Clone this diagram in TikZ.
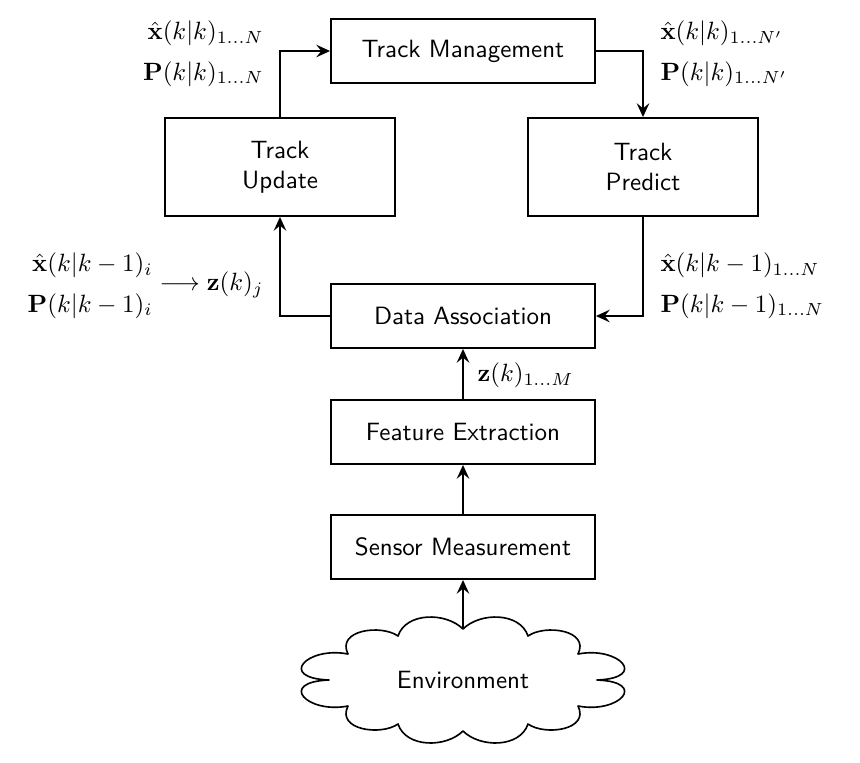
\documentclass[tikz,border=0pt]{standalone}
\usetikzlibrary{arrows.meta}
\begin{document}
\begin{tikzpicture}[x=0.4pt,y=-0.4pt,
  box/.style={draw, line width=0.75pt, font=\sffamily, minimum width=105.6pt, minimum height=25.6pt, inner sep=0pt, align=center},
  bigbox/.style={box, minimum width=92pt, minimum height=39.2pt},
  conn/.style={line width=0.75pt, -{Stealth[length=5.5pt,width=5pt,inset=2pt]}},
  cloudline/.style={line width=0.65pt, line join=round},
  lab/.style={inner sep=0pt}]
\useasboundingbox (0,0) rectangle (860,762);
\def\arraystretch{1.34}
\node[box] (tm) at (463,51) {Track Management};
\node[bigbox] (tu) at (280,167) {Track\\Update};
\node[bigbox] (tp) at (643,167) {Track\\Predict};
\node[box] (da) at (463,316) {Data Association};
\node[box] (fe) at (463,432) {Feature Extraction};
\node[box] (sm) at (463,547) {Sensor Measurement};

% cloud outline
\draw[cloudline] (463,629)
  .. controls (446,612) and (406,612) .. (398,636)
  .. controls (381,624) and (336,630) .. (348,654)
  .. controls (307,646) and (277,678) .. (329,680)
  .. controls (277,682) and (307,714) .. (348,706)
  .. controls (336,730) and (381,736) .. (398,724)
  .. controls (406,748) and (446,748) .. (463,731)
  .. controls (480,748) and (520,748) .. (528,724)
  .. controls (545,736) and (590,730) .. (578,706)
  .. controls (619,714) and (649,682) .. (597,680)
  .. controls (649,678) and (619,646) .. (578,654)
  .. controls (590,630) and (545,624) .. (528,636)
  .. controls (520,612) and (480,612) .. cycle;
\node[font=\sffamily] (env) at (463,680) {Environment};
\coordinate (envtop) at (463,629);

\draw[conn] (tu.north) |- (tm.west);
\draw[conn] (tm.east) -| (tp.north);
\draw[conn] (tp.south) |- (da.east);
\draw[conn] (da.west) -| (tu.south);
\draw[conn] (fe) -- (da);
\draw[conn] (sm) -- (fe);
\draw[conn] (envtop) -- (sm.south);

\node[lab, anchor=east] (l1) at (264,52) {$\begin{array}{@{}r@{}}\hat{\mathbf{x}}(k|k)_{1\ldots N}\\ \mathbf{P}(k|k)_{1\ldots N}\end{array}$};
\node[lab, anchor=west] (l2) at (660,52) {$\begin{array}{@{}l@{}}\hat{\mathbf{x}}(k|k)_{1\ldots N'}\\ \mathbf{P}(k|k)_{1\ldots N'}\end{array}$};
\node[lab, anchor=west] (l3) at (660,284) {$\begin{array}{@{}l@{}}\hat{\mathbf{x}}(k|k-1)_{1\ldots N}\\ \mathbf{P}(k|k-1)_{1\ldots N}\end{array}$};
\node[lab, anchor=east] (l4) at (264,284) {$\begin{array}{@{}r@{}}\hat{\mathbf{x}}(k|k-1)_i\\ \mathbf{P}(k|k-1)_i\end{array}\longrightarrow\mathbf{z}(k)_j$};
\node[lab, anchor=west] (l5) at (477,375) {$\mathbf{z}(k)_{1\ldots M}$};
\end{tikzpicture}
\end{document}
